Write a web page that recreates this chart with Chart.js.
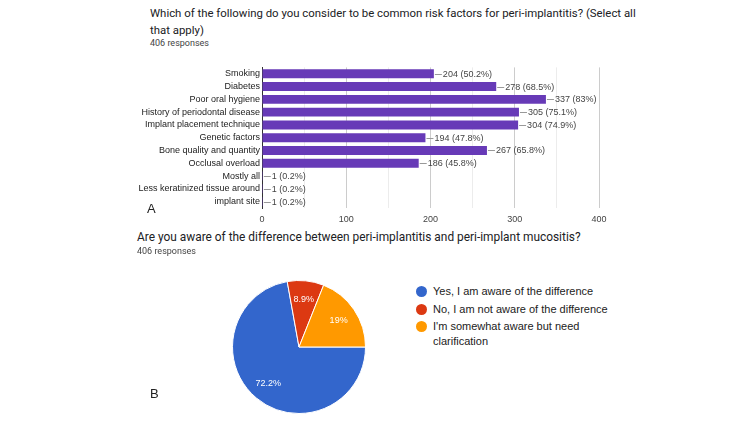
<!DOCTYPE html>
<html>
<head>
<meta charset="utf-8">
<script src="https://cdn.jsdelivr.net/npm/chart.js@4.4.1/dist/chart.umd.min.js"></script>
<style>
  body { margin: 0; width: 750px; height: 422px; background: #fff; position: relative; overflow: hidden; font-family: Roboto, Arial, sans-serif; }
  .abs { position: absolute; }
  .title { font-size: 12px; line-height: 16px; color: #202124; white-space: nowrap; }
  .resp { font-size: 9px; line-height: 11px; color: #444; white-space: nowrap; }
  .tag { font-family: "Liberation Sans", Arial, sans-serif; font-size: 13px; line-height: 14px; color: #222; }
  #barWrap { left: 0; top: 60px; width: 620px; height: 168px; }
  #pieWrap { left: 232px; top: 280px; width: 134px; height: 134px; }
  #legend { left: 416px; top: 284px; font-family: "Liberation Sans", Arial, sans-serif; font-size: 11px; color: #222; }
  .item { position: relative; padding-left: 17px; width: 185px; line-height: 15px; margin-bottom: 2.5px; }
  .dot { position: absolute; left: 0; top: 2px; width: 11px; height: 11px; border-radius: 50%; }
</style>
</head>
<body>
<div class="abs title" style="left:150px; top:5px; font-size:11.4px; line-height:17px;">Which of the following do you consider to be common risk factors for peri-implantitis? (Select all<br>that apply)</div>
<div class="abs resp" style="left:150px; top:38px;">406 responses</div>
<div class="abs" id="barWrap"><canvas id="barChart"></canvas></div>
<div class="abs tag" style="left:147px; top:202px;">A</div>

<div class="abs title" style="left:137px; top:229px; font-size:11.9px;">Are you aware of the difference between peri-implantitis and peri-implant mucositis?</div>
<div class="abs resp" style="left:137px; top:246px;">406 responses</div>
<div class="abs" id="pieWrap"><canvas id="pieChart"></canvas></div>
<div class="abs" id="legend"></div>
<div class="abs tag" style="left:150px; top:387px;">B</div>

<script>
// data
const totalResponses = 406;
const riskLabels = ['Smoking', 'Diabetes', 'Poor oral hygiene', 'History of periodontal disease',
  'Implant placement technique', 'Genetic factors', 'Bone quality and quantity', 'Occlusal overload',
  'Mostly all', 'Less keratinized tissue around', 'implant site'];
const riskCounts = [204, 278, 337, 305, 304, 194, 267, 186, 1, 1, 1];
const xTickLabels = [0, 100, 200, 300, 400];

const awareLabels = ['Yes, I am aware of the difference', 'No, I am not aware of the difference',
  "I'm somewhat aware but need clarification"];
const awareCounts = [293, 36, 77];
const awareColors = ['#3366cc', '#dc3912', '#ff9900'];

const chartFont = '"Liberation Sans", Arial, sans-serif';

function pct(v) {
  return parseFloat((v / totalResponses * 100).toFixed(1)) + '%';
}

// Bar value annotations "—204 (50.2%)"
const barAnnotations = {
  id: 'barAnnotations',
  afterDatasetsDraw(chart) {
    const ctx = chart.ctx;
    const meta = chart.getDatasetMeta(0);
    ctx.save();
    ctx.font = '9px ' + chartFont;
    ctx.textBaseline = 'middle';
    meta.data.forEach((bar, i) => {
      const x = bar.x, y = Math.round(bar.y) + 0.5;
      ctx.strokeStyle = '#999';
      ctx.lineWidth = 1;
      ctx.beginPath();
      ctx.moveTo(x + 1, y);
      ctx.lineTo(x + 8, y);
      ctx.stroke();
      ctx.fillStyle = '#444';
      ctx.fillText(riskCounts[i] + ' (' + pct(riskCounts[i]) + ')', x + 9, y);
    });
    ctx.restore();
  }
};

new Chart(document.getElementById('barChart'), {
  type: 'bar',
  data: {
    labels: riskLabels,
    datasets: [{
      data: riskCounts,
      backgroundColor: '#673ab7',
      barPercentage: 0.7,
      categoryPercentage: 1.0
    }]
  },
  options: {
    indexAxis: 'y',
    responsive: true,
    maintainAspectRatio: false,
    animation: false,
    layout: { padding: { top: 4, right: 21, left: 0, bottom: 0 } },
    plugins: { legend: { display: false }, tooltip: { enabled: false } },
    scales: {
      x: {
        min: 0,
        max: 400,
        ticks: {
          stepSize: 50,
          padding: 6,
          color: '#444',
          font: { family: chartFont, size: 9 },
          callback: v => xTickLabels.includes(v) ? String(v) : ''
        },
        grid: {
          drawTicks: false,
          color: c => (c.tick && c.tick.value % 100 === 0) ? '#cccccc' : '#ececec'
        },
        border: { display: false },
        afterFit: s => { s.height = 20; }
      },
      y: {
        ticks: { autoSkip: false, padding: 2, color: '#222', font: { family: chartFont, size: 9 } },
        grid: { display: false, drawTicks: false },
        border: { display: true, color: '#333', width: 1 },
        afterFit: s => { s.width = 262; }
      }
    }
  },
  plugins: [barAnnotations]
});

// Pie slice percentage labels
const pieLabels = {
  id: 'pieLabels',
  afterDatasetsDraw(chart) {
    const ctx = chart.ctx;
    const meta = chart.getDatasetMeta(0);
    ctx.save();
    ctx.font = '9px ' + chartFont;
    ctx.fillStyle = '#fff';
    ctx.textAlign = 'center';
    ctx.textBaseline = 'middle';
    meta.data.forEach((arc, i) => {
      const a = (arc.startAngle + arc.endAngle) / 2;
      const r = arc.outerRadius * 0.72;
      ctx.fillText(pct(awareCounts[i]), arc.x + Math.cos(a) * r, arc.y + Math.sin(a) * r);
    });
    ctx.restore();
  }
};

new Chart(document.getElementById('pieChart'), {
  type: 'pie',
  data: {
    labels: awareLabels,
    datasets: [{
      data: awareCounts,
      backgroundColor: awareColors,
      borderColor: '#fff',
      borderWidth: 1
    }]
  },
  options: {
    responsive: true,
    maintainAspectRatio: false,
    animation: false,
    rotation: 90,
    plugins: { legend: { display: false }, tooltip: { enabled: false } }
  },
  plugins: [pieLabels]
});

// HTML legend
const legend = document.getElementById('legend');
awareLabels.forEach((label, i) => {
  const item = document.createElement('div');
  item.className = 'item';
  item.innerHTML = '<span class="dot" style="background:' + awareColors[i] + '"></span>';
  item.appendChild(document.createTextNode(label));
  legend.appendChild(item);
});
</script>
</body>
</html>
